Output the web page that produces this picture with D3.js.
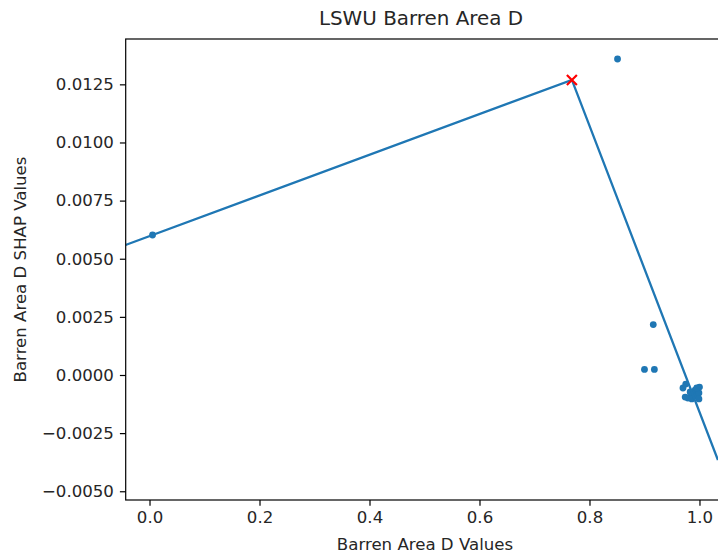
<!DOCTYPE html>
<html>
<head>
<meta charset="utf-8">
<script src="https://cdn.jsdelivr.net/npm/d3@7"></script>
<style>
  html, body { margin: 0; padding: 0; background: #fff; }
  svg { display: block; }
  text { font-family: "DejaVu Sans", sans-serif; fill: #262626; }
</style>
</head>
<body>
<svg id="chart" width="718" height="557"></svg>
<script>
// Observed Barren Area D values and their SHAP contributions
const featureValues = [0.0055, 0.851, 0.916, 0.900, 0.918,
  0.970, 0.975, 0.979, 0.983, 0.988, 0.992, 0.995, 0.999, 1.000, 0.999, 0.995, 0.986, 0.974];
const shapValues = [0.00602, 0.01359, 0.00217, 0.00024, 0.00024,
  -0.00056, -0.00039, -0.00099, -0.00073, -0.00086, -0.00065, -0.00090, -0.00077, -0.00052, -0.00103, -0.00056, -0.00103, -0.00095];

// Piecewise-linear fit: left end, breakpoint, right end
const fitX = [-0.0436, 0.768, 1.0336];
const fitY = [0.00559, 0.01269, -0.00366];
const breakpoint = { x: 0.768, y: 0.01269 };

const xTicks = [0.0, 0.2, 0.4, 0.6, 0.8, 1.0];
const yTicks = [-0.005, -0.0025, 0.0, 0.0025, 0.005, 0.0075, 0.01, 0.0125];

const title = "LSWU Barren Area D";
const xLabel = "Barren Area D Values";
const yLabel = "Barren Area D SHAP Values";

const svg = d3.select("#chart");
const plot = { left: 125.7, right: 719, top: 39, bottom: 500 };

const x = d3.scaleLinear().domain([-0.0433, 1.0355]).range([plot.left, plot.right]);
const y = d3.scaleLinear().domain([-0.005376, 0.01445]).range([plot.bottom, plot.top]);

const blue = "#1f77b4";
const tickFont = "16.6px";

// Clip marks to the axes area
svg.append("defs").append("clipPath").attr("id", "plotClip")
  .append("rect")
  .attr("x", plot.left).attr("y", plot.top)
  .attr("width", plot.right - plot.left).attr("height", plot.bottom - plot.top);

const marks = svg.append("g").attr("clip-path", "url(#plotClip)");

// Scatter of SHAP values
marks.selectAll("circle.pt")
  .data(featureValues.map((v, i) => [v, shapValues[i]]))
  .join("circle")
  .attr("class", "pt")
  .attr("cx", d => x(d[0]))
  .attr("cy", d => y(d[1]))
  .attr("r", 3.4)
  .attr("fill", blue);

// Fitted line
const line = d3.line().x(d => x(d[0])).y(d => y(d[1]));
marks.append("path")
  .datum(fitX.map((v, i) => [v, fitY[i]]))
  .attr("d", line)
  .attr("fill", "none")
  .attr("stroke", blue)
  .attr("stroke-width", 2.3);

// Breakpoint marker
const bx = x(breakpoint.x), by = y(breakpoint.y), s = 5;
marks.append("path")
  .attr("d", `M${bx - s},${by - s}L${bx + s},${by + s}M${bx - s},${by + s}L${bx + s},${by - s}`)
  .attr("stroke", "red")
  .attr("stroke-width", 2.2)
  .attr("fill", "none");

// Axes
const fmtX = d3.format(".1f");
const fmtY = d3.format(".4f");

const xAxis = svg.append("g")
  .attr("transform", `translate(0,${plot.bottom})`)
  .call(d3.axisBottom(x).tickValues(xTicks).tickFormat(fmtX).tickSize(5.8).tickPadding(5.5).tickSizeOuter(0));

const yAxis = svg.append("g")
  .attr("transform", `translate(${plot.left},0)`)
  .call(d3.axisLeft(y).tickValues(yTicks).tickFormat(fmtY).tickSize(5.8).tickPadding(6).tickSizeOuter(0));

[xAxis, yAxis].forEach(g => {
  g.select(".domain").remove();
  g.selectAll(".tick line").attr("stroke", "#000").attr("stroke-width", 1.2);
  g.selectAll(".tick text").attr("font-size", tickFont).attr("fill", "#262626")
    .attr("font-family", "DejaVu Sans, sans-serif");
});

// Spines
svg.append("rect")
  .attr("x", plot.left).attr("y", plot.top)
  .attr("width", plot.right - plot.left).attr("height", plot.bottom - plot.top)
  .attr("fill", "none").attr("stroke", "#000").attr("stroke-width", 1.2);

// Titles
svg.append("text")
  .attr("x", 421).attr("y", 25)
  .attr("text-anchor", "middle").attr("font-size", "19.9px")
  .text(title);

svg.append("text")
  .attr("x", 425).attr("y", 550)
  .attr("text-anchor", "middle").attr("font-size", tickFont)
  .text(xLabel);

svg.append("text")
  .attr("transform", `translate(26,${(plot.top + plot.bottom) / 2}) rotate(-90)`)
  .attr("text-anchor", "middle").attr("font-size", tickFont)
  .text(yLabel);
</script>
</body>
</html>
